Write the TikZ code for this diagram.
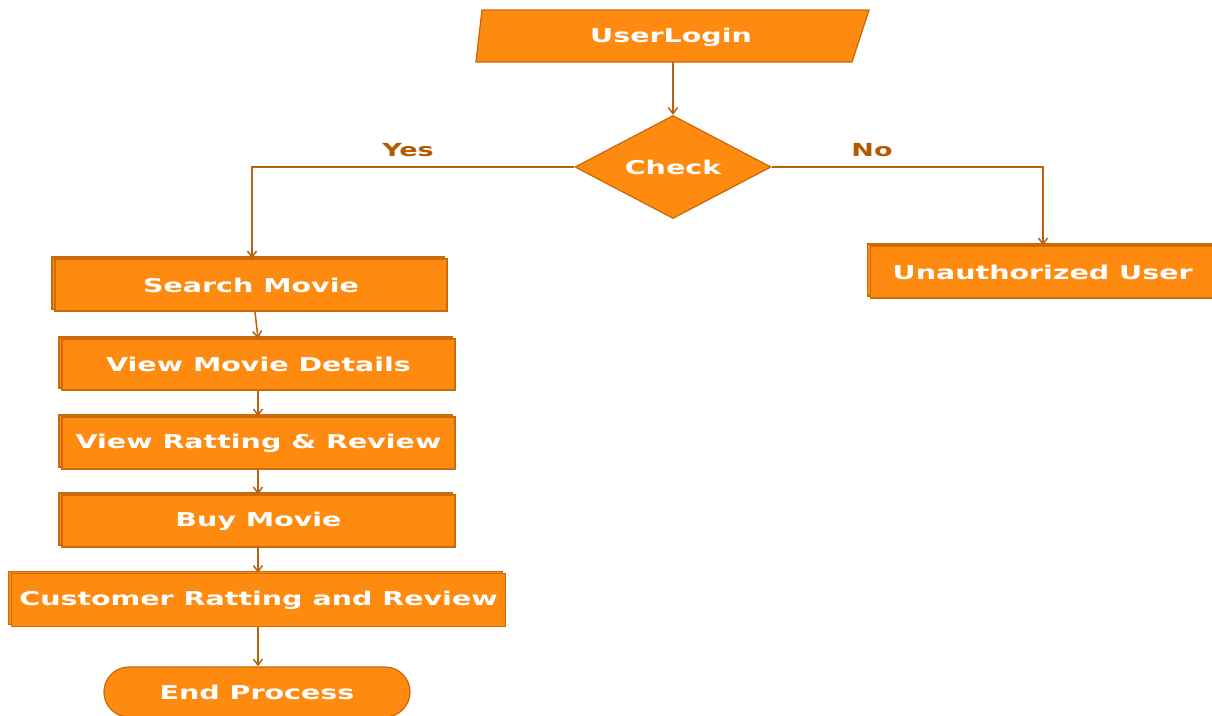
\documentclass[tikz,border=0pt]{standalone}
\usepackage{fontspec}
\newfontfamily\labfont[FakeStretch=1.5]{DejaVu Sans}
\usetikzlibrary{shapes.geometric,shapes.misc,shadows,arrows.meta}
\definecolor{boxfill}{HTML}{FF8A10}
\definecolor{boxline}{HTML}{CC6A0A}
\definecolor{arrowc}{HTML}{B8620E}
\definecolor{labc}{HTML}{B35A00}
\tikzset{
  txt/.style={font=\labfont\bfseries\fontsize{19}{22}\selectfont, text=white},
  procbox/.style={txt, rectangle, fill=boxfill, draw=boxline, line width=1.4pt, inner sep=0pt,
     copy shadow={shadow xshift=-3pt, shadow yshift=2pt, fill=boxfill, draw=boxline, line width=1.2pt}},
  conn/.style={draw=arrowc, line width=1.5pt, -{Straight Barb[length=6pt,width=9pt]}},
  yn/.style={font=\labfont\bfseries\fontsize{18}{21}\selectfont, text=labc}
}
\begin{document}
\begin{tikzpicture}[x=1pt,y=-1pt]
\useasboundingbox (0,0) rectangle (1212,715);
% UserLogin parallelogram
\coordinate (pTL) at (482,10);
\coordinate (pTR) at (869,10);
\coordinate (pBR) at (852,62);
\coordinate (pBL) at (476,62);
\fill[boxfill, draw=boxline, line width=1.3pt] (pTL) -- (pTR) -- (pBR) -- (pBL) -- cycle;
\node[txt] (login) at (671,37) {UserLogin};
\coordinate (loginb) at (673,62);
% diamond
\node[txt, diamond, fill=boxfill, draw=boxline, line width=1.3pt, minimum width=196pt, minimum height=103pt, aspect=1.9, inner sep=0pt] (check) at (673,167) {Check};
% boxes
\node[procbox, minimum width=392pt, minimum height=52pt] (search) at (251,285) {Search Movie};
\node[procbox, minimum width=393pt, minimum height=51pt] (details) at (258.5,364.5) {View Movie Details};
\node[procbox, minimum width=393pt, minimum height=52pt] (rating) at (258.5,443) {View Ratting \& Review};
\node[procbox, minimum width=393pt, minimum height=52pt] (buy) at (258.5,521) {Buy Movie};
\node[procbox, minimum width=494pt, minimum height=53pt] (cust) at (258.5,600) {Customer Ratting and Review};
\node[procbox, minimum width=360pt, minimum height=52pt, anchor=west] (unauth) at (870,272) {\hspace*{-4pt}Unauthorized User\hspace*{12pt}};
\node[txt, rounded rectangle, fill=boxfill, draw=boxline, line width=1.3pt, minimum width=306pt, minimum height=50pt, inner sep=0pt] (endp) at (257,692) {End Process};
% connectors
\draw[conn] (loginb) -- (check.north);
\draw[conn] (check.west) -| (search.north -| 252,0);
\draw[conn] (check.east) -| (unauth.north -| 1043,0);
\draw[conn] (search.south -| 255,0) -- (details.north -| 258,0);
\draw[conn] (details.south -| 258,0) -- (rating.north -| 258,0);
\draw[conn] (rating.south -| 258,0) -- (buy.north -| 258,0);
\draw[conn] (buy.south -| 258,0) -- (cust.north -| 258,0);
\draw[conn] (cust.south -| 258,0) -- (endp.north -| 258,0);
% labels
\node[yn] (yes) at (408,150) {Yes};
\node[yn] (no) at (872,150) {No};
\end{tikzpicture}
\end{document}
